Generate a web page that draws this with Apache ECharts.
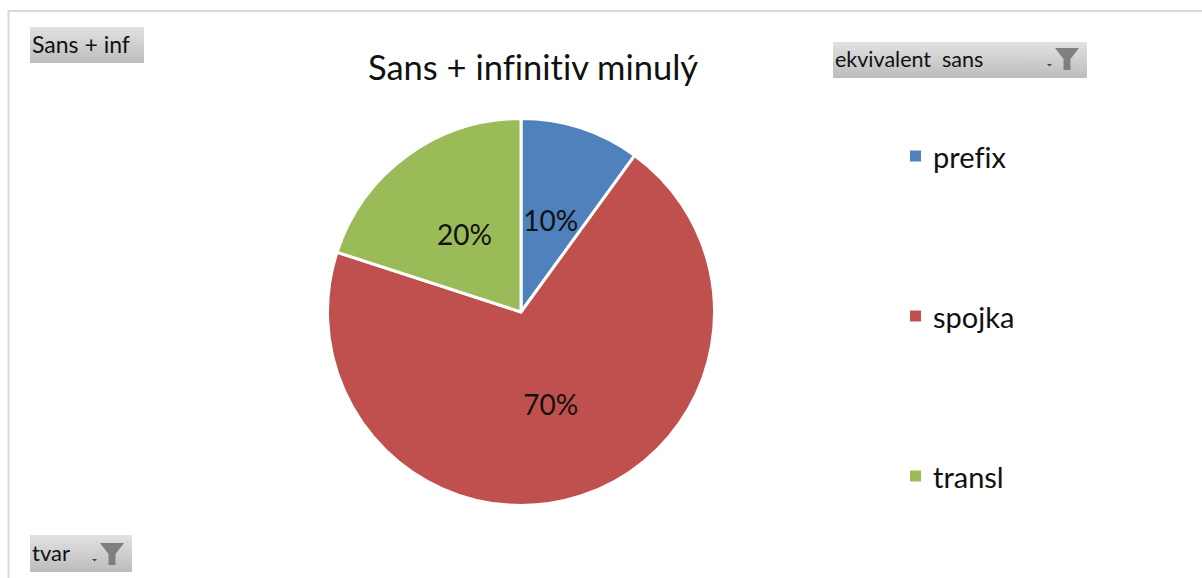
<!DOCTYPE html>
<html><head><meta charset="utf-8">
<style>html,body{margin:0;padding:0;background:#fff}#c{width:1202px;height:578px;font-variant-ligatures:none}#c text{font-variant-ligatures:none}</style>
<script src="https://cdn.jsdelivr.net/npm/echarts@6/dist/echarts.min.js"></script>
</head><body><div id="c"></div>
<script>
const titleText = 'Sans + infinitiv minulý';
const categories = ['prefix', 'spojka', 'transl'];
const values = [10, 70, 20];
const colors = ['#4f81bd', '#c0504d', '#9bbb59'];
const FONT = 'Lato';
const labelShift = [[-1,3],[-1,-3],[2,3]];
const grad = {type:'linear',x:0,y:0,x2:0,y2:1,colorStops:[{offset:0,color:'#e2e2e2'},{offset:1,color:'#bcbcbc'}]};
function funnel(x,y){
  return [
    {type:'polygon',shape:{points:[[x,y],[x+24,y],[x+15.5,y+11],[x+15.5,y+22],[x+8.5,y+22],[x+8.5,y+11]]},style:{fill:'#7f7f7f'}},
    {type:'polygon',shape:{points:[[x-8,y+16],[x-3,y+16],[x-5.5,y+18.5]]},style:{fill:'#444'}}
  ];
}
function button(x,y,w,h,label,tx,size){
  return [
    {type:'rect',shape:{x,y,width:w,height:h},style:{fill:grad}},
    {type:'text',x:tx,y:y+h/2-1,style:{text:label,font:size+'px '+FONT,fill:'#111',textVerticalAlign:'middle'}}
  ];
}
const chart = echarts.init(document.getElementById('c'),null,{renderer:'svg'});
chart.setOption({
  animation:false,
  backgroundColor:'#fff',
  title:{text:titleText,left:528,top:44,textAlign:'center',textStyle:{fontFamily:FONT,fontSize:34.5,fontWeight:'normal',color:'#111'}},
  legend:{orient:'vertical',left:903,top:134,itemWidth:13,itemHeight:13,itemGap:126,icon:'rect',
    data:categories,selectedMode:false,
    textStyle:{fontFamily:FONT,fontSize:29,color:'#111',padding:[0,0,0,6],lineHeight:34}},
  series:[{type:'pie',center:[521,312],radius:[0,193.5],startAngle:90,clockwise:true,
    data:categories.map((n,i)=>({name:n,value:values[i],itemStyle:{color:colors[i]}})),
    itemStyle:{borderColor:'#fff',borderWidth:3},
    label:{show:true,position:'inside',formatter:'{d}%',fontFamily:FONT,fontSize:28,color:'#111'},
    labelLayout:p=>({dx:labelShift[p.dataIndex][0],dy:labelShift[p.dataIndex][1]}),
    labelLine:{show:false},emphasis:{disabled:true}}],
  graphic:{elements:[
    {type:'polyline',shape:{points:[[8.5,579],[8.5,11],[1202,11]]},style:{stroke:'#d9d9d9',lineWidth:2,fill:null}},
    ...button(30,27,114,36,'Sans + inf',32,23),
    ...button(833,42,254,36,'ekvivalent  sans',835,21.5),
    ...funnel(1055,48),
    ...button(30,535,102,37,'tvar',32,22),
    ...funnel(100,543)
  ]}
});
</script></body></html>
